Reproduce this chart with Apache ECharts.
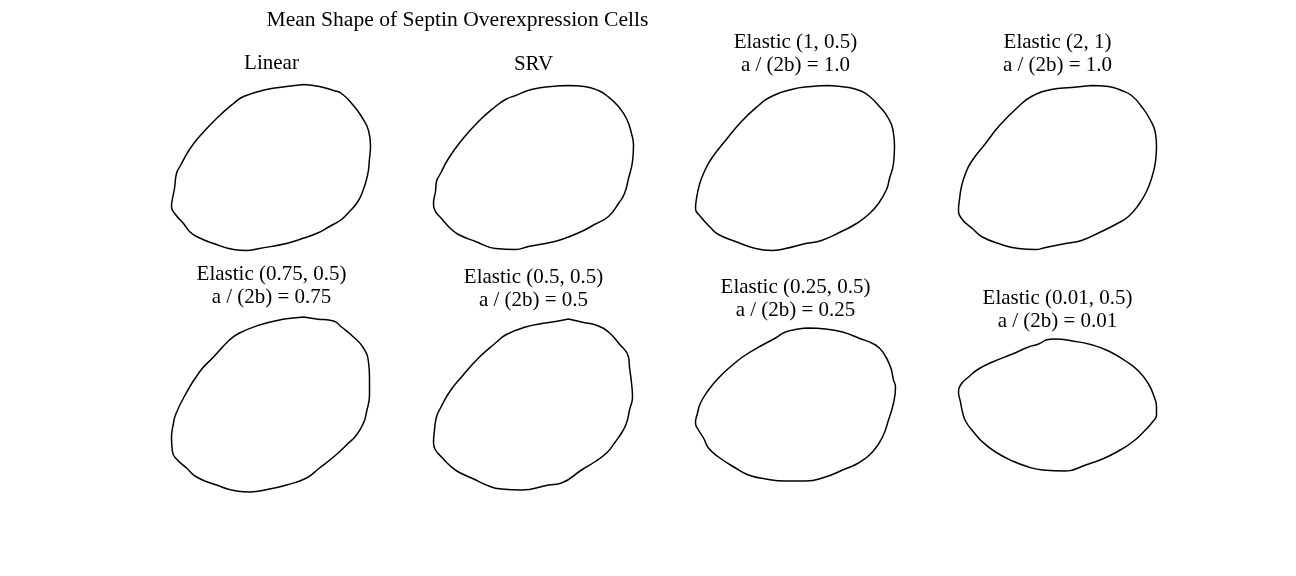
<!DOCTYPE html>
<html><head><meta charset="utf-8">
<script src="https://cdn.jsdelivr.net/npm/echarts@6/dist/echarts.min.js"></script>
<style>html,body{margin:0;padding:0;background:#fff}#c{width:1296px;height:576px}</style>
</head><body><div id="c"></div>
<script>
// ---- data: mean cell outlines, contour points [x, y] in shape units ----
const mainTitle = 'Mean Shape of Septin Overexpression Cells';
const panelTitles = [
  'Linear', 'SRV',
  'Elastic (1, 0.5)\na / (2b) = 1.0', 'Elastic (2, 1)\na / (2b) = 1.0',
  'Elastic (0.75, 0.5)\na / (2b) = 0.75', 'Elastic (0.5, 0.5)\na / (2b) = 0.5',
  'Elastic (0.25, 0.5)\na / (2b) = 0.25', 'Elastic (0.01, 0.5)\na / (2b) = 0.01'
];
const linear = [[32,83],[48,81],[62,77],[70,74],[82,62],[90,51],[97,37],[99,22],[98,9],[96,-8],[90,-27],[85,-36],[78,-44],[70,-52],[58,-59],[45,-66],[28,-72],[15,-76],[-12,-81],[-25,-83],[-38,-82],[-58,-76],[-75,-69],[-82,-64],[-88,-56],[-96,-47],[-100,-39],[-99,-31],[-97,-21],[-95,-6],[-91,2],[-82,18],[-72,31],[-55,49],[-38,64],[-28,71],[-5,78],[15,81]];
const srv = [[35,82],[51,81],[65,77],[73,72],[85,61],[93,49],[98,34],[100,22],[99,6],[95,-11],[91,-26],[85,-36],[75,-49],[61,-57],[48,-64],[28,-72],[12,-76],[-5,-79],[-18,-82],[-38,-81],[-58,-74],[-75,-67],[-83,-61],[-92,-51],[-99,-42],[-100,-36],[-98,-24],[-97,-14],[-93,-6],[-85,9],[-72,27],[-55,46],[-38,61],[-28,68],[-18,72],[-2,78],[18,81]];
const elastic1_05 = [[33,82],[53,80],[64,77],[73,72],[84,61],[93,49],[98,34],[99,21],[98,4],[94,-11],[91,-22],[83,-36],[73,-47],[61,-56],[46,-64],[26,-73],[10,-76],[-10,-81],[-24,-83],[-40,-81],[-60,-74],[-77,-67],[-85,-60],[-95,-49],[-100,-41],[-99,-31],[-96,-17],[-92,-6],[-84,9],[-70,27],[-54,46],[-37,62],[-26,70],[-4,78],[16,81]];
const elastic2_1 = [[34,82],[51,81],[64,77],[74,72],[84,61],[92,49],[98,34],[99,21],[98,6],[94,-11],[89,-24],[82,-36],[71,-49],[58,-57],[44,-64],[24,-73],[8,-76],[-12,-80],[-22,-82],[-39,-81],[-59,-76],[-76,-69],[-84,-62],[-96,-51],[-99,-42],[-98,-32],[-96,-19],[-92,-6],[-86,6],[-72,24],[-58,42],[-39,61],[-26,71],[-6,78],[14,80]];
const elastic075_05 = [[32,88],[45,86],[62,84],[70,78],[82,68],[92,57],[97,43],[98,27],[98,10],[95,-7],[92,-18],[85,-30],[75,-40],[62,-52],[48,-63],[35,-73],[15,-80],[-2,-84],[-22,-87],[-35,-86],[-55,-80],[-75,-72],[-85,-63],[-96,-53],[-99,-47],[-100,-33],[-98,-18],[-96,-10],[-88,7],[-72,33],[-58,48],[-42,65],[-32,72],[-12,80],[8,85],[22,87]];
const elastic05_05 = [[35,86],[48,83],[65,79],[75,73],[85,62],[95,48],[96,38],[98,22],[99,8],[96,-5],[93,-18],[88,-28],[81,-38],[73,-48],[61,-57],[48,-65],[28,-78],[15,-80],[-12,-85],[-32,-84],[-42,-82],[-62,-73],[-75,-67],[-82,-62],[-92,-52],[-98,-45],[-100,-38],[-99,-25],[-97,-12],[-93,-3],[-84,13],[-72,28],[-55,47],[-38,62],[-28,70],[-8,78],[12,82],[25,84]];
const elastic025_05 = [[13,77],[30,76],[47,73],[63,67],[80,60],[88,52],[95,38],[98,25],[100,18],[98,2],[93,-15],[87,-32],[77,-47],[63,-58],[47,-65],[30,-72],[10,-76],[-10,-76],[-30,-74],[-47,-70],[-60,-63],[-77,-52],[-87,-43],[-92,-33],[-97,-25],[-100,-18],[-98,-8],[-95,2],[-87,15],[-77,27],[-63,40],[-50,50],[-33,60],[-20,67],[-10,73],[3,76]];
const elastic001_05 = [[-12,65],[-2,66],[15,64],[35,60],[51,54],[68,44],[81,34],[91,21],[96,10],[99,-2],[99,-10],[95,-17],[86,-27],[75,-37],[61,-46],[45,-54],[28,-60],[8,-66],[-15,-65],[-29,-62],[-45,-56],[-62,-47],[-75,-37],[-84,-27],[-92,-16],[-95,-7],[-97,3],[-99,13],[-97,20],[-89,28],[-79,36],[-65,43],[-45,51],[-29,58],[-19,61]];

const shapes = [linear, srv, elastic1_05, elastic2_1, elastic075_05, elastic05_05, elastic025_05, elastic001_05];

// ---- layout ----
const colX = [271.5, 533.5, 795.5, 1057.5];
const rowY = [167.5, 405];
const titleTops = [52, 53, 30.5, 30.5, 262.5, 265.5, 275.5, 286.5];
const FONT = '"Liberation Serif", "Times New Roman", serif';

const grid = [], xAxis = [], yAxis = [], series = [];
const title = [{
  text: mainTitle, left: 457.5, top: 9, textAlign: 'center', padding: 0,
  textStyle: {fontFamily: FONT, fontSize: 21.6, fontWeight: 'normal', color: '#000', lineHeight: 23}
}];
shapes.forEach((pts, i) => {
  const cx = colX[i % 4], cy = rowY[Math.floor(i / 4)];
  grid.push({left: cx - 110, top: cy - 100, width: 220, height: 200, containLabel: false});
  xAxis.push({type: 'value', gridIndex: i, min: -110, max: 110, show: false});
  yAxis.push({type: 'value', gridIndex: i, min: -100, max: 100, show: false});
  series.push({
    type: 'line', xAxisIndex: i, yAxisIndex: i,
    data: pts.concat([pts[0]]), showSymbol: false, symbol: 'none',
    smooth: 0.5, lineStyle: {color: '#000', width: 1.5}, silent: true, animation: false
  });
  title.push({
    text: panelTitles[i], left: cx, top: titleTops[i], textAlign: 'center', padding: 0,
    textStyle: {fontFamily: FONT, fontSize: 21, fontWeight: 'normal', color: '#000', lineHeight: 23}
  });
});

const chart = echarts.init(document.getElementById('c'), null, {renderer: 'canvas'});
chart.setOption({backgroundColor: '#fff', animation: false, title, grid, xAxis, yAxis, series});
</script>
</body></html>
